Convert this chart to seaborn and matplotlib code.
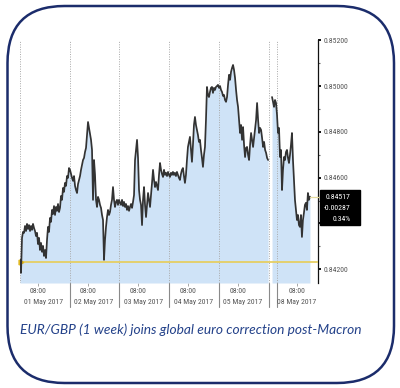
import numpy as np
import pandas as pd
import matplotlib
matplotlib.use("Agg")
import matplotlib.pyplot as plt
import seaborn as sns
from matplotlib.patches import FancyBboxPatch, Rectangle
import matplotlib.transforms as mtransforms
from matplotlib import font_manager

sns.set_theme(style="white")

# pick a condensed face if one is installed
names = {f.name for f in font_manager.fontManager.ttflist}
cond_fam = None
for cand in ["Liberation Sans Narrow", "DejaVu Sans Condensed", "Roboto Condensed", "Open Sans Condensed"]:
    if cand in names:
        cond_fam = cand
        break
narrow_files = [f for f in font_manager.fontManager.ttflist
                if f.name == "DejaVu Sans" and "ondensed" in f.fname]
if cond_fam is None and narrow_files:
    cond_fam = "DejaVu Sans"
    STRETCH = "condensed"
else:
    STRETCH = "normal"
if cond_fam is None:
    cond_fam = "DejaVu Sans"
plt.rcParams['font.family'] = [cond_fam, 'DejaVu Sans']
plt.rcParams['font.stretch'] = STRETCH

# ---------------- data (EUR/GBP) ----------------
may01 = [0.84241, 0.84184, 0.84337, 0.84363, 0.84359, 0.84389, 0.84367, 0.84398, 0.84376, 0.84393,
         0.84367, 0.84389, 0.84372, 0.84398, 0.84380, 0.84367, 0.84345, 0.84359, 0.84310, 0.84337,
         0.84284, 0.84315, 0.84276, 0.84302, 0.84258, 0.84284, 0.84249, 0.84328, 0.84385, 0.84363,
         0.84424, 0.84407, 0.84459, 0.84441, 0.84476, 0.84437, 0.84472, 0.84455, 0.84485, 0.84450,
         0.84468, 0.84520, 0.84503, 0.84555, 0.84538, 0.84577, 0.84564, 0.84607, 0.84599, 0.84642]
may02 = [0.84634, 0.84616, 0.84599, 0.84586, 0.84607, 0.84564, 0.84546, 0.84533, 0.84572, 0.84590,
         0.84607, 0.84634, 0.84655, 0.84677, 0.84686, 0.84712, 0.84730, 0.84786, 0.84843, 0.84817,
         0.84791, 0.84765, 0.84721, 0.84503, 0.84677, 0.84612, 0.84503, 0.84472, 0.84516, 0.84503,
         0.84481, 0.84468, 0.84437, 0.84415, 0.84241, 0.84328, 0.84385, 0.84428, 0.84459, 0.84437,
         0.84450, 0.84481, 0.84503, 0.84559, 0.84503, 0.84472, 0.84494, 0.84503, 0.84481, 0.84503]
may03 = [0.84490, 0.84481, 0.84503, 0.84476, 0.84494, 0.84472, 0.84485, 0.84459, 0.84476, 0.84455,
         0.84472, 0.84485, 0.84468, 0.84494, 0.84524, 0.84677, 0.84721, 0.84765, 0.84686, 0.84546,
         0.84503, 0.84481, 0.84393, 0.84503, 0.84559, 0.84481, 0.84428, 0.84481, 0.84533, 0.84503,
         0.84472, 0.84524, 0.84577, 0.84634, 0.84590, 0.84559, 0.84581, 0.84564, 0.84546, 0.84612,
         0.84664, 0.84634, 0.84616, 0.84603, 0.84634, 0.84612, 0.84621, 0.84607, 0.84625, 0.84612]
may04 = [0.84603, 0.84621, 0.84612, 0.84625, 0.84612, 0.84621, 0.84607, 0.84625, 0.84612, 0.84599,
         0.84590, 0.84616, 0.84634, 0.84642, 0.84607, 0.84577, 0.84612, 0.84677, 0.84734, 0.84756,
         0.84778, 0.84721, 0.84669, 0.84743, 0.84830, 0.84865, 0.84830, 0.84808, 0.84786, 0.84756,
         0.84765, 0.84721, 0.84686, 0.84647, 0.84699, 0.84734, 0.84852, 0.84996, 0.84961, 0.84952,
         0.84974, 0.84992, 0.84996, 0.84970, 0.84992, 0.84983, 0.84996, 0.85000, 0.85005]
may05 = [0.84992, 0.85000, 0.84983, 0.84974, 0.84957, 0.84961, 0.84939, 0.84931, 0.84952, 0.85005,
         0.85049, 0.85027, 0.85062, 0.85079, 0.85092, 0.85070, 0.85035, 0.84983, 0.84939, 0.84909,
         0.84852, 0.84795, 0.84830, 0.84765, 0.84821, 0.84743, 0.84690, 0.84730, 0.84734, 0.84699,
         0.84677, 0.84743, 0.84795, 0.84765, 0.84734, 0.84773, 0.84808, 0.84852, 0.84926, 0.84852,
         0.84795, 0.84817, 0.84808, 0.84773, 0.84734, 0.84756, 0.84721, 0.84708, 0.84686, 0.84677]
may08 = [0.84952, 0.84931, 0.84909, 0.84939, 0.84926, 0.84874, 0.84795, 0.84817, 0.84690, 0.84721,
         0.84546, 0.84634, 0.84690, 0.84677, 0.84712, 0.84721, 0.84686, 0.84664, 0.84699, 0.84743,
         0.84795, 0.84677, 0.84590, 0.84503, 0.84459, 0.84415, 0.84437, 0.84393, 0.84385, 0.84437,
         0.84341, 0.84415, 0.84446, 0.84481, 0.84490, 0.84459, 0.84533, 0.84503, 0.84517]

# session time spans in hours since 01 May 00:00 (weekend compressed)
session_start_h = [0.0, 24.15, 48.3, 72.4, 96.1, 121.7]
session_end_h = [23.66, 47.8, 71.95, 95.6, 119.8, 140.0]
segment_of_session = [0, 0, 0, 0, 0, 1]

day_lines_h = [0, 24, 48, 72, 96, 120, 124.1]
sep_lines_h = [24, 48, 72, 96, 120, 124.1]
tick_h = [8.7, 32.8, 57.0, 81.1, 105.3, 133.8]
tick_labels = ["08:00"] * 6
date_h = [11.6, 35.7, 59.9, 84.0, 107.7, 133.8]
date_labels = ["01 May 2017", "02 May 2017", "03 May 2017", "04 May 2017", "05 May 2017", "08 May 2017"]

y_ticks = [0.842, 0.844, 0.846, 0.848, 0.850, 0.852]
y_ticklabels = ["0.84200", "", "0.84600", "0.84800", "0.85000", "0.85200"]
ref_level = 0.84232
last_price = 0.84517
box_lines = ["0.84517", "-0.00287", "0.34%"]
caption = "EUR/GBP (1 week) joins global euro correction post-Macron"

# ---------------- build frame ----------------
series = [may01, may02, may03, may04, may05, may08]
rows = []
for vals, s, e, seg in zip(series, session_start_h, session_end_h, segment_of_session):
    ts = np.linspace(s, e, len(vals))
    for t, v in zip(ts, vals):
        rows.append((t, v, seg))
df = pd.DataFrame(rows, columns=["t", "price", "seg"])

# ---------------- figure ----------------
W, H = 400, 388
fig = plt.figure(figsize=(W / 100, H / 100), dpi=100)
fig.patch.set_facecolor("white")

ax_l, ax_r, ax_t, ax_b = 19.5, 318, 40, 283
ax = fig.add_axes([ax_l / W, 1 - ax_b / H, (ax_r - ax_l) / W, (ax_b - ax_t) / H])
ax.set_facecolor("white")

ymin, ymax = 0.84140, 0.85201
xmin, xmax = -0.25, 143.9

fill_col = "#cfe3f7"
for seg, g in df.groupby("seg"):
    ax.fill_between(g["t"], g["price"], ymin, color=fill_col, lw=0, zorder=1)

for h in day_lines_h:
    ax.axvline(h, color="#a8a8a8", lw=0.7, ls=(0, (1, 1.5)), zorder=2)

ax.axhline(ref_level, color="#e6cf63", lw=1.3, zorder=3)
ax.plot([0.3], [ref_level], marker=">", ms=3.5, color="#e0b820", zorder=4, clip_on=False)

sns.lineplot(data=df, x="t", y="price", units="seg", estimator=None,
             color="#333333", lw=1.25, ax=ax, legend=False, zorder=5)

ax.set_xlim(xmin, xmax)
ax.set_ylim(ymin, ymax)
ax.set_xlabel("")
ax.set_ylabel("")

for side in ["left", "top", "bottom"]:
    ax.spines[side].set_visible(False)
ax.spines["right"].set_color("#111111")
ax.spines["right"].set_linewidth(0.9)

small = 5.6 if STRETCH == "condensed" or cond_fam != "DejaVu Sans" else 4.9

ax.yaxis.tick_right()
ax.set_yticks(y_ticks)
ax.set_yticklabels(y_ticklabels)
ax.set_yticks([0.843, 0.845, 0.847, 0.849, 0.851], minor=True)
ax.tick_params(axis="y", which="major", right=True, length=2.5, width=1.4,
               color="#111111", pad=1.5, labelsize=small, labelcolor="#555555")
ax.tick_params(axis="y", which="minor", right=True, length=1.5, width=0.8, color="#666666")

ax.set_xticks(tick_h)
ax.set_xticklabels(tick_labels)
ax.tick_params(axis="x", bottom=True, length=2.5, width=0.6, color="#999999",
               pad=1.0, labelsize=small, labelcolor="#555555")

trans = mtransforms.blended_transform_factory(ax.transData, ax.transAxes)
for h, lab in zip(date_h, date_labels):
    ax.text(h, -0.078, lab, transform=trans, ha="center", va="center",
            fontsize=small, color="#555555")
for h in sep_lines_h:
    ax.plot([h, h], [0, -0.10], transform=trans, color="#8a8a8a", lw=0.8, clip_on=False)

ax.plot([session_end_h[-1], 144.9], [last_price, last_price], color="#e6dca0",
        lw=0.9, clip_on=False, zorder=6)
box = Rectangle((320 / W, 1 - 225 / H), 40 / W, 35 / H, transform=fig.transFigure,
                facecolor="black", edgecolor="black", zorder=10)
fig.add_artist(box)
for txt, yp in zip(box_lines, [197, 208, 219]):
    fig.text(351 / W, 1 - yp / H, txt, ha="right", va="center", fontsize=small,
             color="white", zorder=11)

fig.text(20 / W, 1 - 330 / H, caption, ha="left", va="center", fontsize=9.9,
         style="italic", family=["Lato", "DejaVu Sans"], stretch="normal", color="#24428a")

frame = FancyBboxPatch((0.075, 0.05), 3.865, 3.77,
                       boxstyle="round,pad=0,rounding_size=0.57",
                       transform=fig.dpi_scale_trans, fill=False,
                       edgecolor="#1b2c6b", linewidth=1.8, zorder=20)
fig.add_artist(frame)

fig.savefig("out.png", dpi=100, facecolor="white")
